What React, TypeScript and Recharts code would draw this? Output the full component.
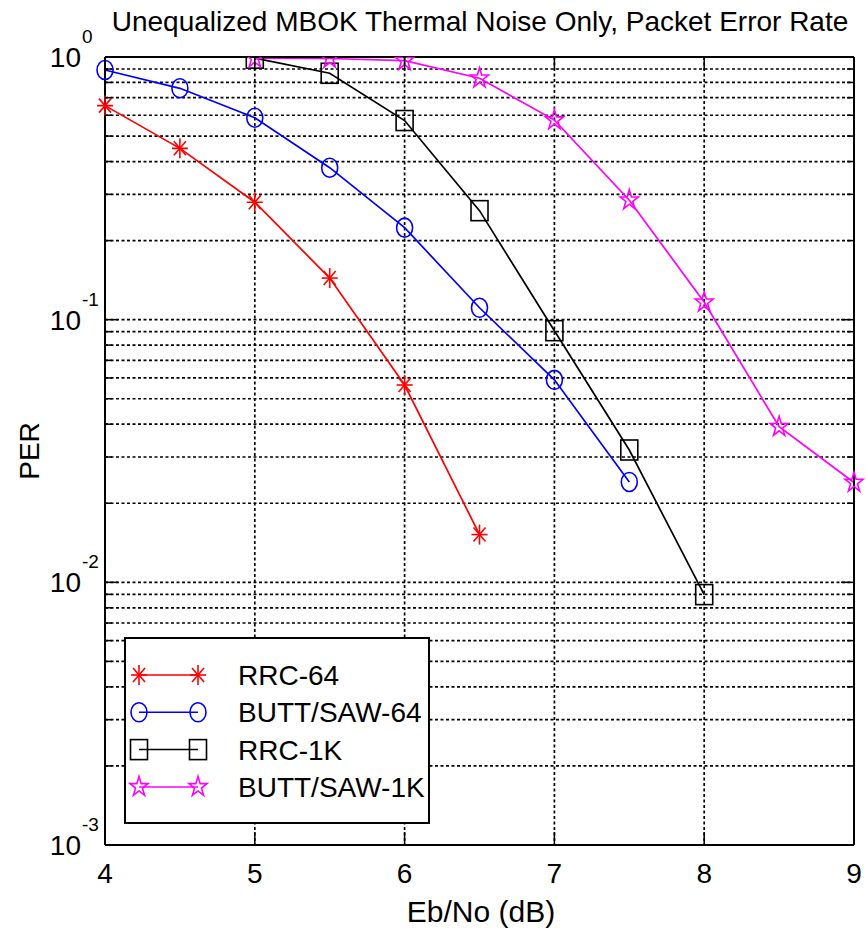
import React from 'react';
import { LineChart, Line, XAxis, YAxis, CartesianGrid, Legend } from 'recharts';

const ebno = [4, 4.5, 5, 5.5, 6, 6.5, 7, 7.5, 8, 8.5, 9];
const rrc64 = [0.653, 0.449, 0.28, 0.144, 0.0564, 0.0152, null, null, null, null, null];
const butt64 = [0.892, 0.76, 0.587, 0.379, 0.224, 0.111, 0.059, 0.0241, null, null, null];
const rrc1k = [null, null, 0.99, 0.867, 0.573, 0.26, 0.0908, 0.0319, 0.00898, null, null];
const butt1k = [null, null, 0.99, 0.987, 0.968, 0.83, 0.575, 0.285, 0.1165, 0.0391, 0.024];

const xTicks = [4, 5, 6, 7, 8, 9];
const xGrid = [5, 6, 7, 8];
const yMajor = [0.001, 0.01, 0.1, 1];
const yMinor = [
  0.002, 0.003, 0.004, 0.005, 0.006, 0.007, 0.008, 0.009,
  0.02, 0.03, 0.04, 0.05, 0.06, 0.07, 0.08, 0.09,
  0.2, 0.3, 0.4, 0.5, 0.6, 0.7, 0.8, 0.9,
];
const yGrid = [...yMinor, 0.01, 0.1];
const yTicks = [...yMajor, ...yMinor].sort((a, b) => a - b);

const series = [
  { key: 'rrc64', name: 'RRC-64', color: '#ff0000', marker: 'asterisk' },
  { key: 'butt64', name: 'BUTT/SAW-64', color: '#0000ff', marker: 'circle' },
  { key: 'rrc1k', name: 'RRC-1K', color: '#000000', marker: 'square' },
  { key: 'butt1k', name: 'BUTT/SAW-1K', color: '#ff00ff', marker: 'star' },
];

const data = ebno.map((x, i) => ({
  x,
  rrc64: rrc64[i],
  butt64: butt64[i],
  rrc1k: rrc1k[i],
  butt1k: butt1k[i],
}));

const FONT = '"Liberation Sans", Arial, sans-serif';

function Marker({ type, cx, cy, color }: { type: string; cx: number; cy: number; color: string }) {
  const sw = 1.6;
  if (type === 'asterisk') {
    return (
      <g stroke={color} strokeWidth={sw}>
        <line x1={cx} y1={cy - 10} x2={cx} y2={cy + 10} />
        <line x1={cx - 8} y1={cy} x2={cx + 8} y2={cy} />
        <line x1={cx - 6} y1={cy - 7} x2={cx + 6} y2={cy + 7} />
        <line x1={cx - 6} y1={cy + 7} x2={cx + 6} y2={cy - 7} />
      </g>
    );
  }
  if (type === 'circle') {
    return <ellipse cx={cx} cy={cy} rx={8} ry={9.5} fill="none" stroke={color} strokeWidth={sw} />;
  }
  if (type === 'square') {
    return <rect x={cx - 8.5} y={cy - 10} width={17} height={20} fill="none" stroke={color} strokeWidth={sw} />;
  }
  const pts: string[] = [];
  for (let k = 0; k < 10; k++) {
    const r = k % 2 === 0 ? 1 : 0.382;
    const a = -Math.PI / 2 + (k * Math.PI) / 5;
    pts.push(`${cx + 9.5 * r * Math.cos(a)},${cy + 10.5 * r * Math.sin(a)}`);
  }
  return <polygon points={pts.join(' ')} fill="none" stroke={color} strokeWidth={sw} />;
}

const makeDot = (type: string, color: string) => (p: any) => {
  if (p.cx == null || p.cy == null || p.value == null) return <g key={`${type}-${p.index}`} />;
  return (
    <g key={`${type}-${p.index}`}>
      <Marker type={type} cx={p.cx} cy={p.cy} color={color} />
    </g>
  );
};

const supMap: Record<string, string> = { '1': '0', '0.1': '-1', '0.01': '-2', '0.001': '-3' };

const LeftTick = (p: any) => {
  const v = p.payload.value;
  const major = yMajor.includes(v);
  const y = p.y;
  const x = p.x;
  return (
    <g>
      <line x1={x} x2={x + (major ? 13 : 7)} y1={y} y2={y} stroke="#000" strokeWidth={1.5} />
      {major && (
        <text x={x - 24} y={y + 10} textAnchor="end" fontSize={28} fontFamily={FONT} fill="#000">
          10
        </text>
      )}
      {major && (
        <text x={x - 23} y={y - 14} textAnchor="start" fontSize={19} fontFamily={FONT} fill="#000">
          {supMap[String(v)]}
        </text>
      )}
    </g>
  );
};

const RightTick = (p: any) => {
  const major = yMajor.includes(p.payload.value);
  return <line x1={p.x} x2={p.x - (major ? 13 : 7)} y1={p.y} y2={p.y} stroke="#000" strokeWidth={1.5} />;
};

const BottomTick = (p: any) => (
  <g>
    <line x1={p.x} x2={p.x} y1={p.y} y2={p.y - 13} stroke="#000" strokeWidth={1.5} />
    <text x={p.x} y={p.y + 38} textAnchor="middle" fontSize={28} fontFamily={FONT} fill="#000">
      {p.payload.value}
    </text>
  </g>
);

const TopTick = (p: any) => (
  <line x1={p.x} x2={p.x} y1={p.y} y2={p.y + 13} stroke="#000" strokeWidth={1.5} />
);

const LegendBox = () => (
  <svg width={306} height={187} style={{ display: 'block' }}>
    <rect x={1} y={1} width={304} height={185} fill="#fff" stroke="#000" strokeWidth={2} />
    {series.map((s, i) => {
      const y = 38 + i * 37.3;
      return (
        <g key={s.key}>
          <line x1={15} x2={74} y1={y} y2={y} stroke={s.color} strokeWidth={1.5} />
          <Marker type={s.marker} cx={15} cy={y} color={s.color} />
          <Marker type={s.marker} cx={74} cy={y} color={s.color} />
          <text x={114} y={y + 10} fontSize={28} fontFamily={FONT} fill="#000">
            {s.name}
          </text>
        </g>
      );
    })}
  </svg>
);

export default function App() {
  return (
    <div style={{ position: 'absolute', left: 0, top: 0, background: '#fff' }}>
      <LineChart width={866} height={941} data={data} margin={{ top: 56, right: 11, bottom: 0, left: 0 }}>
        <CartesianGrid
          horizontalValues={yGrid}
          verticalValues={xGrid}
          stroke="#000"
          strokeWidth={1.7}
          strokeDasharray="3 2.5"
        />
        <XAxis
          dataKey="x"
          type="number"
          domain={[4, 9]}
          ticks={xTicks}
          interval={0}
          height={96}
          tickSize={0}
          tickMargin={0}
          tickLine={false}
          axisLine={{ stroke: '#000', strokeWidth: 2 }}
          tick={BottomTick}
        />
        <XAxis
          xAxisId="top"
          orientation="top"
          dataKey="x"
          type="number"
          domain={[4, 9]}
          ticks={xTicks}
          interval={0}
          height={1}
          tickSize={0}
          tickMargin={0}
          tickLine={false}
          axisLine={{ stroke: '#000', strokeWidth: 2 }}
          tick={TopTick}
        />
        <YAxis
          scale="log"
          type="number"
          domain={[0.001, 1]}
          allowDataOverflow
          ticks={yTicks}
          interval={0}
          width={105}
          tickSize={0}
          tickMargin={0}
          tickLine={false}
          axisLine={{ stroke: '#000', strokeWidth: 2 }}
          tick={LeftTick}
        />
        <YAxis
          yAxisId="right"
          orientation="right"
          scale="log"
          type="number"
          domain={[0.001, 1]}
          allowDataOverflow
          ticks={yTicks}
          interval={0}
          width={1}
          tickSize={0}
          tickMargin={0}
          tickLine={false}
          axisLine={{ stroke: '#000', strokeWidth: 2 }}
          tick={RightTick}
        />
        {series.map((s) => (
          <Line
            key={s.key}
            dataKey={s.key}
            name={s.name}
            stroke={s.color}
            strokeWidth={1.7}
            dot={makeDot(s.marker, s.color)}
            activeDot={false}
            isAnimationActive={false}
            connectNulls={false}
          />
        ))}
        <Legend
          layout="vertical"
          align="center"
          verticalAlign="middle"
          width={306}
          height={187}
          wrapperStyle={{ left: 124, top: 637, width: 306, height: 187 }}
          content={LegendBox}
        />
        <text x={480} y={31} textAnchor="middle" fontSize={28} fontFamily={FONT} fill="#000">
          Unequalized MBOK Thermal Noise Only, Packet Error Rate
        </text>
        <text x={481} y={922} textAnchor="middle" fontSize={30} fontFamily={FONT} fill="#000">
          Eb/No (dB)
        </text>
        <text
          x={39}
          y={451}
          textAnchor="middle"
          fontSize={28}
          fontFamily={FONT}
          fill="#000"
          transform="rotate(-90 39 451)"
        >
          PER
        </text>
      </LineChart>
    </div>
  );
}
